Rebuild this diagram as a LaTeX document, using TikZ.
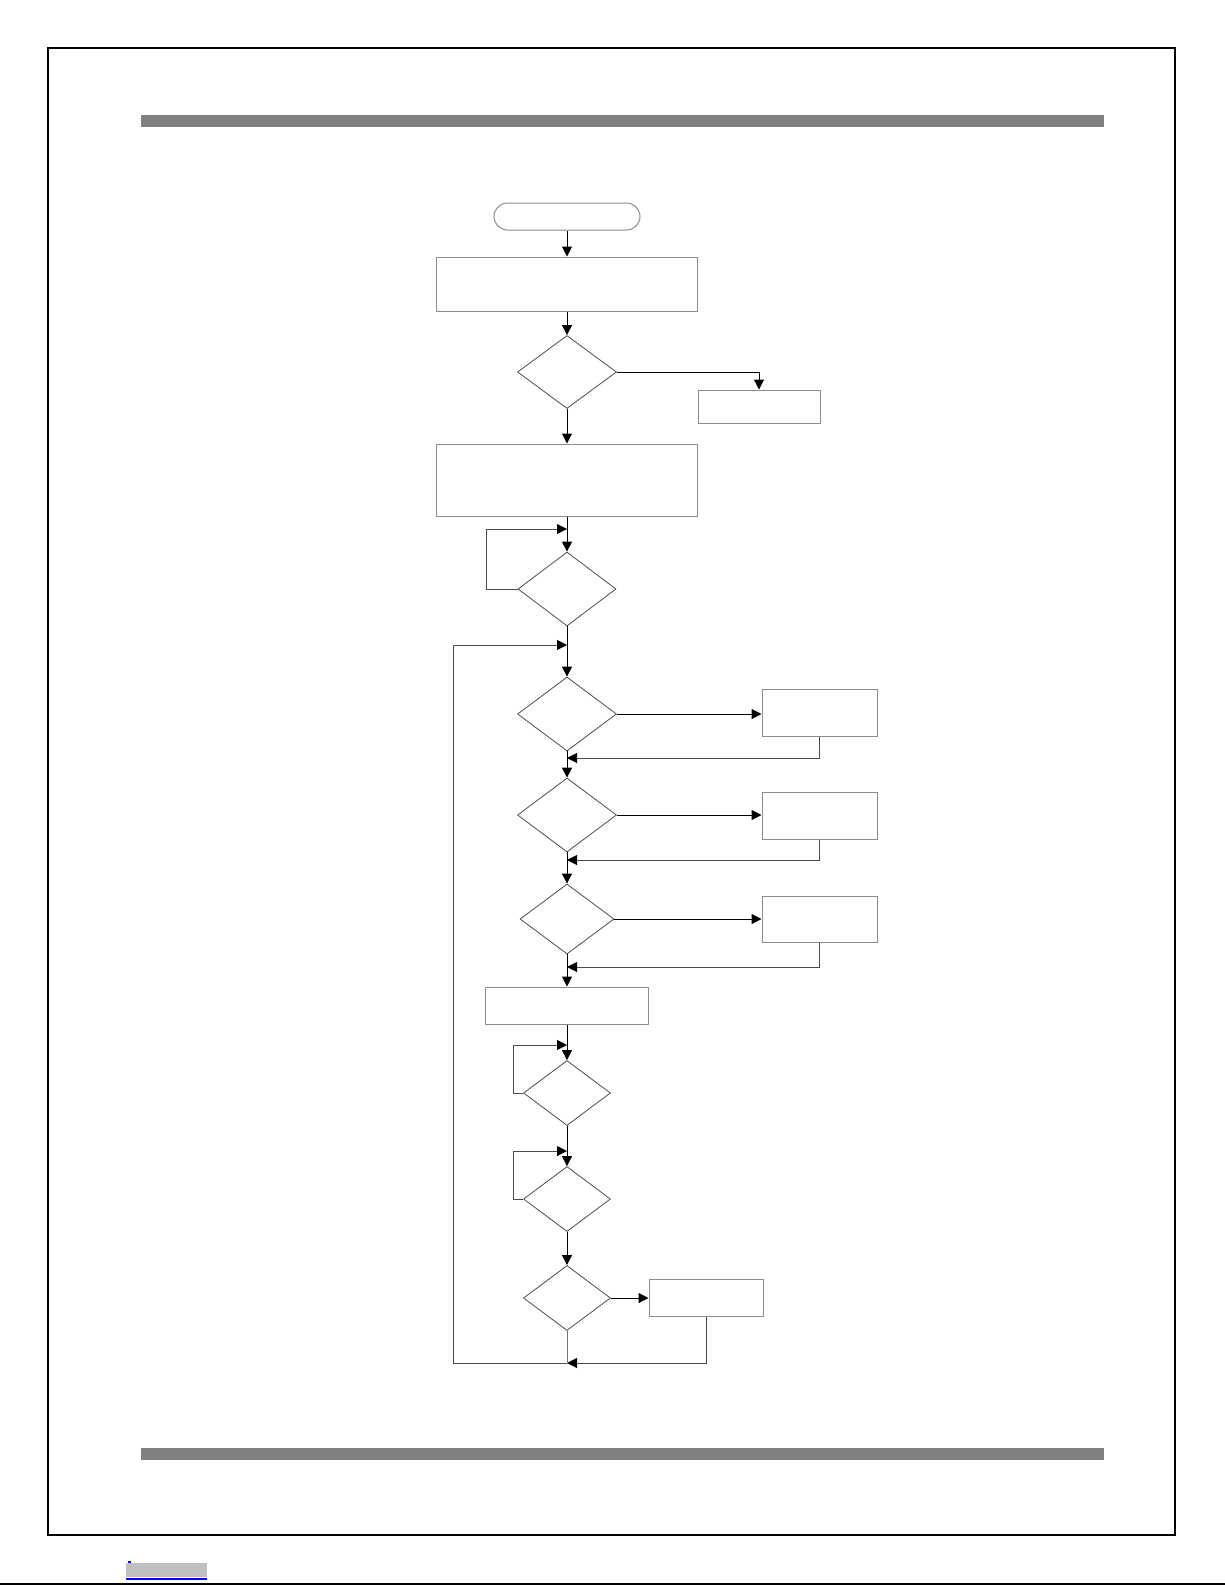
\documentclass[tikz,border=0pt]{standalone}
\usepackage{tikz}
\usetikzlibrary{shapes.geometric, shapes.misc, arrows.meta}
\definecolor{bargray}{HTML}{808080}
\definecolor{boxgray}{HTML}{8C8C8C}
\definecolor{linkgray}{HTML}{C0C0C0}
\definecolor{linkblue}{HTML}{0000FF}

\begin{document}
\begin{tikzpicture}[x=0.5pt, y=-0.5pt,
        startstop/.style={rounded rectangle, draw=boxgray, line width=0.5pt,
          minimum width=73pt, minimum height=13.5pt, inner sep=0pt},
        procbox/.style={rectangle, draw=boxgray, line width=0.5pt, inner sep=0pt},
        decide/.style={diamond, draw=black!70, line width=0.4pt, inner sep=0pt},
        flow/.style={-{Triangle[length=5pt,width=5pt,color=black]}, line width=0.5pt},
        back/.style={flow, draw=black!70},
        plainline/.style={line width=0.5pt, draw=black!55},
      ]
      \useasboundingbox (0,0) rectangle (1225,1585);

      % page frame, header and footer bars
      \draw[line width=1pt] (48,48) rectangle (1175,1535);
      \fill[bargray] (141,115) rectangle (1104,127);
      \fill[bargray] (141,1448) rectangle (1104,1460);
      \draw[line width=0.8pt] (0,1584) -- (1225,1584);
      \fill[linkgray] (126,1563) rectangle (207,1577);
      \draw[linkblue, line width=0.6pt] (126,1579) -- (207,1579);
      \draw[linkblue, line width=0.6pt] (128,1562) -- (131,1562);

      \node[startstop] (start) at (567,216.5) {};
      \node[procbox, minimum width=130.5pt, minimum height=27pt] (init) at (567,284) {};
      \node[decide, minimum width=49.5pt, minimum height=36.5pt] (chk) at (567,372) {};
      \node[procbox, minimum width=61pt, minimum height=16.5pt] (fail) at (759,406.5) {};
      \node[procbox, minimum width=130.5pt, minimum height=36pt] (setup) at (567,480) {};
      \node[decide, minimum width=49pt, minimum height=37pt] (wait1) at (567,589) {};

      \node[decide, minimum width=49.5pt, minimum height=37pt] (testA) at (567,714) {};
      \node[procbox, minimum width=57.5pt, minimum height=23.5pt] (actA) at (819.5,712.5) {};
      \node[decide, minimum width=49.5pt, minimum height=37pt] (testB) at (567,815) {};
      \node[procbox, minimum width=57.5pt, minimum height=23.5pt] (actB) at (819.5,815.5) {};
      \node[decide, minimum width=47pt, minimum height=35pt] (testC) at (567,919) {};
      \node[procbox, minimum width=57.5pt, minimum height=23pt] (actC) at (819.5,919) {};

      \node[procbox, minimum width=81.5pt, minimum height=18.5pt] (next) at (567,1005.5) {};
      \node[decide, minimum width=43.5pt, minimum height=32.5pt] (wait2) at (567,1093) {};
      \node[decide, minimum width=43.5pt, minimum height=32.5pt] (wait3) at (567,1199) {};
      \node[decide, minimum width=43.5pt, minimum height=32.5pt] (testD) at (567,1298) {};
      \node[procbox, minimum width=57pt, minimum height=18.5pt] (actD) at (706,1297.5) {};

      \coordinate (loopA) at (486,529);
      \coordinate (joinA) at (567,529);
      \coordinate (loopB) at (513,1045);
      \coordinate (joinB) at (567,1045);
      \coordinate (loopC) at (513,1151);
      \coordinate (joinC) at (567,1151);
      \coordinate (topret) at (567,645);
      \coordinate (retA) at (567,758);
      \coordinate (retB) at (567,860);
      \coordinate (retC) at (567,967);
      \coordinate (retD) at (567,1363);
      \coordinate (outer) at (453,1363);

      \draw[flow] (start) -- (init);
      \draw[flow] (init) -- (chk);
      \draw[flow] (chk.east) -| (fail.north);
      \draw[flow] (chk) -- (setup);
      \draw[flow] (setup) -- (wait1);
      \draw[back] (wait1.west) -| (loopA) -- (joinA);
      \draw[back] (retD) -- (outer) |- (topret);

      \draw[flow] (wait1) -- (testA);
      \draw[flow] (testA.east) -- (testA.east -| actA.west);
      \draw[back] (actA.south) |- (retA);
      \draw[flow] (testA) -- (testB);
      \draw[flow] (testB.east) -- (testB.east -| actB.west);
      \draw[back] (actB.south) |- (retB);
      \draw[flow] (testB) -- (testC);
      \draw[flow] (testC.east) -- (testC.east -| actC.west);
      \draw[back] (actC.south) |- (retC);
      \draw[flow] (testC) -- (next);

      \draw[flow] (next) -- (wait2);
      \draw[back] (wait2.west) -| (loopB) -- (joinB);
      \draw[flow] (wait2) -- (wait3);
      \draw[back] (wait3.west) -| (loopC) -- (joinC);
      \draw[flow] (wait3) -- (testD);
      \draw[flow] (testD.east) -- (testD.east -| actD.west);
      \draw[back] (actD.south) |- (retD);
      \draw[plainline] (testD) -- (retD);
    \end{tikzpicture}
\end{document}
